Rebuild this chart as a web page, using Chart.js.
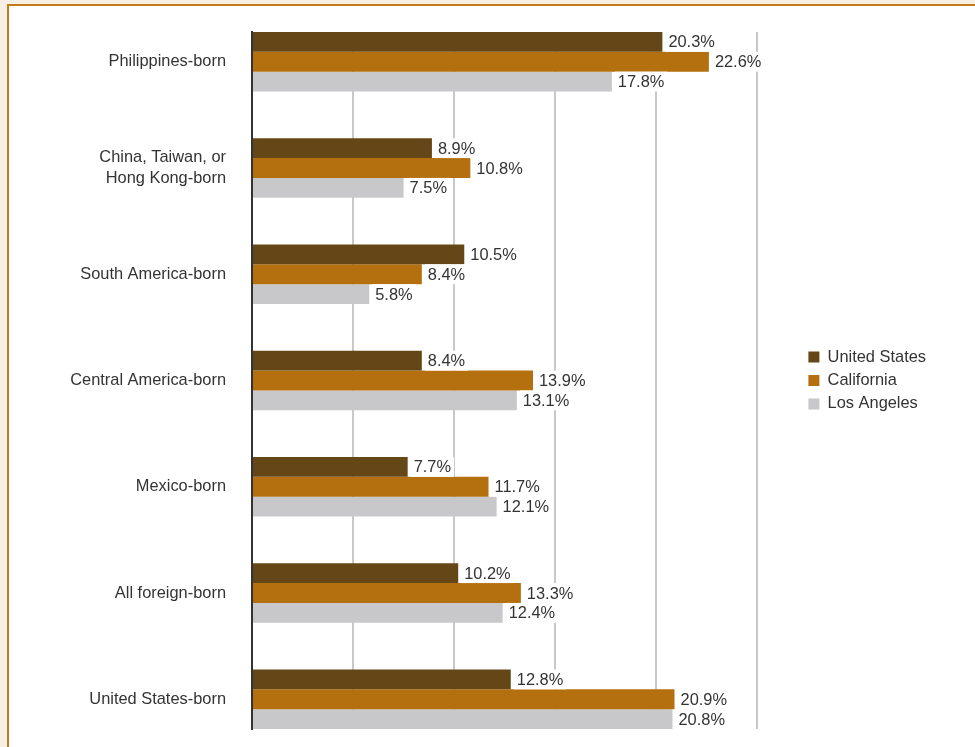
<!DOCTYPE html>
<html>
<head>
<meta charset="utf-8">
<script src="https://cdn.jsdelivr.net/npm/chart.js@4.4.1/dist/chart.umd.min.js"></script>
<style>
  html, body { margin: 0; padding: 0; overflow: hidden; background: #f7efe3; }
  #panel { position: absolute; left: 7px; top: 4px; width: 2000px; height: 2000px;
           border-top: 2px solid #c47a1a; border-left: 2px solid #c47a1a; background: #fff; }
  #wrap { position: absolute; left: 0; top: 0; width: 975px; height: 747px; }
</style>
</head>
<body>
<div id="panel"></div>
<div id="wrap"><canvas id="chart" width="975" height="747"></canvas></div>
<script>
const categories = [
    'Philippines-born',
    ['China, Taiwan, or', 'Hong Kong-born'],
    'South America-born',
    'Central America-born',
    'Mexico-born',
    'All foreign-born',
    'United States-born'
];
const unitedStates = [20.3, 8.9, 10.5, 8.4, 7.7, 10.2, 12.8];
const california   = [22.6, 10.8, 8.4, 13.9, 11.7, 13.3, 20.9];
const losAngeles   = [17.8, 7.5, 5.8, 13.1, 12.1, 12.4, 20.8];
const xTicks = [0, 5, 10, 15, 20, 25];

const FONT = "'Liberation Sans', Arial, sans-serif";
const SIZE = 16.4;
const TEXT = '#333333';

function toPoints(values) {
    return values.map((v, i) => ({ x: v, y: i }));
}

function noPad(s) {
    s.paddingTop = 0; s.paddingBottom = 0; s.paddingLeft = 0; s.paddingRight = 0;
}

// value labels at bar end, with a white box behind (hides gridlines)
const valueLabels = {
    id: 'valueLabels',
    afterDatasetsDraw(chart) {
        const ctx = chart.ctx;
        ctx.save();
        ctx.font = SIZE + 'px ' + FONT;
        ctx.textBaseline = 'middle';
        ctx.textAlign = 'left';
        chart.data.datasets.forEach((ds, di) => {
            const meta = chart.getDatasetMeta(di);
            meta.data.forEach((bar, i) => {
                const txt = ds.data[i].x.toFixed(1) + '%';
                const w = ctx.measureText(txt).width;
                const h = bar.height;
                ctx.fillStyle = '#ffffff';
                ctx.fillRect(bar.x + 3, bar.y - h / 2, w + 6, h);
                ctx.fillStyle = TEXT;
                ctx.fillText(txt, bar.x + 6, bar.y + 1);
            });
        });
        ctx.restore();
    }
};

const data = {
    datasets: [
        { label: 'United States', data: toPoints(unitedStates), backgroundColor: '#644617', yAxisID: 'y' },
        { label: 'California', data: toPoints(california), backgroundColor: '#b46f0e', yAxisID: 'y' },
        { label: 'Los Angeles', data: toPoints(losAngeles), backgroundColor: '#c8c8ca', yAxisID: 'y' }
    ]
};

const config = {
    type: 'bar',
    data: data,
    options: {
        indexAxis: 'y',
        responsive: false,
        animation: false,
        categoryPercentage: 0.56,
        barPercentage: 1,
        layout: {
            padding: { left: 0, top: 32, bottom: 18, right: 39 }
        },
        plugins: {
            tooltip: { enabled: false },
            legend: {
                position: 'right',
                align: 'center',
                labels: {
                    boxWidth: 11,
                    boxHeight: 11,
                    padding: 7,
                    color: TEXT,
                    font: { family: FONT, size: SIZE }
                }
            }
        },
        scales: {
            y: {
                type: 'linear',
                reverse: true,
                offset: false,
                min: -0.28,
                max: 6.28,
                afterBuildTicks: (s) => { s.ticks = categories.map((c, i) => ({ value: i })); },
                afterFit: (s) => { s.width = 252; noPad(s); },
                ticks: {
                    callback: (v, i) => categories[i],
                    color: TEXT,
                    padding: 26,
                    font: { family: FONT, size: SIZE, lineHeight: 1.3 }
                },
                grid: { display: false, drawTicks: false, offset: false },
                border: { display: true, color: '#333333', width: 2 }
            },
            gap: {
                type: 'linear',
                position: 'right',
                display: true,
                afterFit: (s) => { s.width = 44; noPad(s); },
                ticks: { display: false },
                grid: { display: false, drawTicks: false },
                border: { display: false }
            },
            x: {
                min: 0,
                max: 25,
                afterBuildTicks: (s) => { s.ticks = xTicks.map((v) => ({ value: v })); },
                afterFit: (s) => { s.height = 0; noPad(s); },
                ticks: { display: false },
                grid: {
                    drawTicks: false,
                    lineWidth: 2,
                    color: (c) => c.tick && c.tick.value === 0 ? 'rgba(0,0,0,0)' : '#c8c8c8'
                },
                border: { display: false }
            }
        }
    },
    plugins: [valueLabels]
};

const ctx = document.getElementById('chart').getContext('2d');
window.myChart = new Chart(ctx, config);
</script>
</body>
</html>
